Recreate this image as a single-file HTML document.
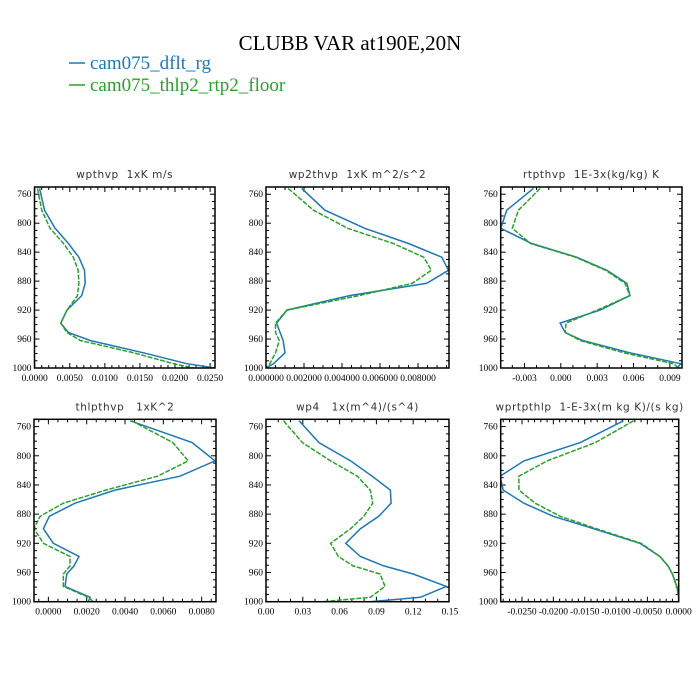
<!DOCTYPE html>
<html><head><meta charset="utf-8"><style>
body{margin:0;background:#fff;}
svg{display:block;}
.pt{font-family:"DejaVu Sans","Liberation Sans",sans-serif;font-size:10.5px;fill:#333;white-space:pre;letter-spacing:0.6px;}
.tk{font-family:"Liberation Serif",serif;font-size:9.5px;fill:#000;}
</style></head><body>
<svg id="chart" width="700" height="700" viewBox="0 0 700 700" xmlns="http://www.w3.org/2000/svg">
<text x="350" y="50" text-anchor="middle" font-family="Liberation Serif,serif" font-size="21" fill="#000">CLUBB VAR at190E,20N</text>
<g>
<line x1="69" y1="63" x2="85" y2="63" stroke="#1f77b4" stroke-width="1.5"/>
<text x="90" y="69" font-family="Liberation Serif,serif" font-size="19" fill="#1f77b4">cam075_dflt_rg</text>
<line x1="69" y1="85" x2="85" y2="85" stroke="#2ca02c" stroke-width="1.5"/>
<text x="90" y="91" font-family="Liberation Serif,serif" font-size="19" fill="#2ca02c">cam075_thlp2_rtp2_floor</text>
</g>
</svg>
<script>
const levels=[752,782,807,828,847,865,883,900,920,938,951,962,979,994,1000];
const yTicks=[760,800,840,880,920,960,1000];
const titles=["wpthvp  1xK m/s","wp2thvp  1xK m^2/s^2","rtpthvp  1E-3x(kg/kg) K","thlpthvp   1xK^2","wp4   1x(m^4)/(s^4)","wprtpthlp  1-E-3x(m kg K)/(s kg)"];
const dflt1=[0.0007,0.0014,0.0029,0.0048,0.0063,0.0071,0.0072,0.0067,0.0046,0.0037,0.0048,0.0079,0.0155,0.0217,0.0257];
const floor1=[0.0004,0.0010,0.0022,0.0041,0.0055,0.0062,0.0063,0.0061,0.0046,0.0037,0.0046,0.0065,0.0141,0.0198,0.0226];
const dflt2=[0.00188,0.0031,0.0052,0.0075,0.00925,0.0096,0.00846,0.0044,0.0011,0.00056,0.00074,0.0009,0.001,0.0004,0];
const floor2=[0.00117,0.0025,0.0043,0.0067,0.0083,0.0087,0.0077,0.0049,0.0011,0.0005,0.0005,0.0007,0.0005,0.0002,0];
const dflt3=[-0.00226,-0.00446,-0.00496,-0.0024,0.0013,0.0038,0.00545,0.0057,0.00325,-0.00006,0.00036,0.0018,0.0057,0.0099,0.0096];
const floor3=[-0.0017,-0.0035,-0.0040,-0.0025,0.0012,0.0037,0.0053,0.0057,0.003,0.00044,0.00036,0.0016,0.0052,0.0093,0.0097];
const dflt4=[0.00427,0.0075,0.0087,0.00687,0.00348,0.00139,0.00005,-0.00026,0.00026,0.0016,0.00134,0.00096,0.00087,0.00218,0.00209];
const floor4=[0.00435,0.0065,0.0073,0.0057,0.0030,0.00078,-0.00043,-0.00075,-0.00026,0.00113,0.00113,0.00078,0.00078,0.00209,0.00235];
const dflt5=[0.027,0.0432,0.069,0.0865,0.1014,0.102,0.092,0.077,0.065,0.077,0.096,0.12,0.147,0.126,0.085];
const floor5=[0.0143,0.0297,0.0527,0.0744,0.085,0.087,0.0797,0.069,0.0527,0.059,0.071,0.093,0.097,0.085,0.046];
const dflt6=[-0.0088,-0.0157,-0.0247,-0.0285,-0.028,-0.0247,-0.020,-0.0136,-0.0062,-0.003,-0.0017,-0.001,-0.0003,0,0];
const floor6=[-0.0072,-0.0133,-0.021,-0.0255,-0.0255,-0.0229,-0.0189,-0.0131,-0.006,-0.003,-0.0017,-0.001,-0.0003,0,0];
const xTicks1=[0,0.005,0.01,0.015,0.02,0.025];
const xLabels1=["0.0000","0.0050","0.0100","0.0150","0.0200","0.0250"];
const xTicks2=[0,0.002,0.004,0.006,0.008];
const xLabels2=["0.000000","0.002000","0.004000","0.006000","0.008000"];
const xTicks3=[-0.003,0,0.003,0.006,0.009];
const xLabels3=["-0.003","0.000","0.003","0.006","0.009"];
const xTicks4=[0,0.002,0.004,0.006,0.008];
const xLabels4=["0.0000","0.0020","0.0040","0.0060","0.0080"];
const xTicks5=[0,0.03,0.06,0.09,0.12,0.15];
const xLabels5=["0.00","0.03","0.06","0.09","0.12","0.15"];
const xTicks6=[-0.025,-0.02,-0.015,-0.01,-0.005,0];
const xLabels6=["-0.0250","-0.0200","-0.0150","-0.0100","-0.0050","0.0000"];

const panels=[
 {box:[34.5,215,187,368],xr:[-0.00003,0.0257],d:dflt1,f:floor1,t:xTicks1,l:xLabels1,m:5},
 {box:[266,449,187,368],xr:[0,0.00963],d:dflt2,f:floor2,t:xTicks2,l:xLabels2,m:4},
 {box:[500.7,682,187,368],xr:[-0.00496,0.0100],d:dflt3,f:floor3,t:xTicks3,l:xLabels3,m:3},
 {box:[34,216,419.3,601.7],xr:[-0.00075,0.00875],d:dflt4,f:floor4,t:xTicks4,l:xLabels4,m:4},
 {box:[266,449,419.3,601.7],xr:[0,0.1492],d:dflt5,f:floor5,t:xTicks5,l:xLabels5,m:3},
 {box:[500.7,678.7,419.3,601.7],xr:[-0.0284,0],d:dflt6,f:floor6,t:xTicks6,l:xLabels6,m:5}
];
const NS="http://www.w3.org/2000/svg";
const svg=document.getElementById('chart');
function mk(tag,attrs,parent){const e=document.createElementNS(NS,tag);for(const k in attrs)e.setAttribute(k,attrs[k]);parent.appendChild(e);return e;}
panels.forEach((p,i)=>{
 const [x0,x1,y0,y1]=p.box;
 const g=mk('g',{},svg);
 
 
 const xs=v=>x0+(v-p.xr[0])/(p.xr[1]-p.xr[0])*(x1-x0);
 const ys=v=>y0+(v-750)/(1000-750)*(y1-y0);
 const tt=mk('text',{x:(x0+x1)/2,y:y0-9,'text-anchor':'middle',class:'pt'},g);
 tt.textContent=titles[i];
 
 
 for(let v=750;v<=1000;v+=10){
  const y=ys(v);const maj=(v-760)%40===0;const L=maj?5:3;
  mk('line',{x1:x0,y1:y,x2:x0+L,y2:y,stroke:'#000','stroke-width':1},g);
  mk('line',{x1:x1,y1:y,x2:x1-L,y2:y,stroke:'#000','stroke-width':1},g);
 }
 yTicks.forEach(v=>{
  const t=mk('text',{x:x0-3,y:ys(v)+3,'text-anchor':'end',class:'tk'},g);
  t.textContent=String(v);
  
  
 });
 const step=p.t[1]-p.t[0];const ms=step/p.m;
 for(let k=-20;k<=100;k++){
  const v=p.t[0]+k*ms;if(v<p.xr[0]-1e-9||v>p.xr[1]+1e-9)continue;
  const x=xs(v);const L=(k%p.m===0)?5:3;
  mk('line',{x1:x,y1:y1,x2:x,y2:y1-L,stroke:'#000','stroke-width':1},g);
  mk('line',{x1:x,y1:y0,x2:x,y2:y0+L,stroke:'#000','stroke-width':1},g);
 }
 p.t.forEach((v,j)=>{
  let x=xs(v);
  const t=mk('text',{x:x,y:y1+13,'text-anchor':'middle',class:'tk'},g);
  t.textContent=p.l[j];
  
  
 });
 const clip=mk('clipPath',{id:'c'+i},g);
 mk('rect',{x:x0,y:y0,width:x1-x0,height:y1-y0},clip);
 const series=[[p.d,'#1f77b4','','dflt'],[p.f,'#2ca02c','5,1.5','floor']];
 series.forEach(s=>{
  const pts=s[0].map((v,j)=>xs(v).toFixed(1)+','+ys(levels[j]).toFixed(1)).join(' ');
  const pl=mk('polyline',{points:pts,fill:'none',stroke:s[1],'stroke-width':1.5,'clip-path':'url(#c'+i+')'},g);
  if(s[2])pl.setAttribute('stroke-dasharray',s[2]);
  
  
 });
 const fr=mk('rect',{x:x0,y:y0,width:x1-x0,height:y1-y0,fill:'none',stroke:'#000','stroke-width':1.5},g);
 
 
});
</script>
</body></html>
